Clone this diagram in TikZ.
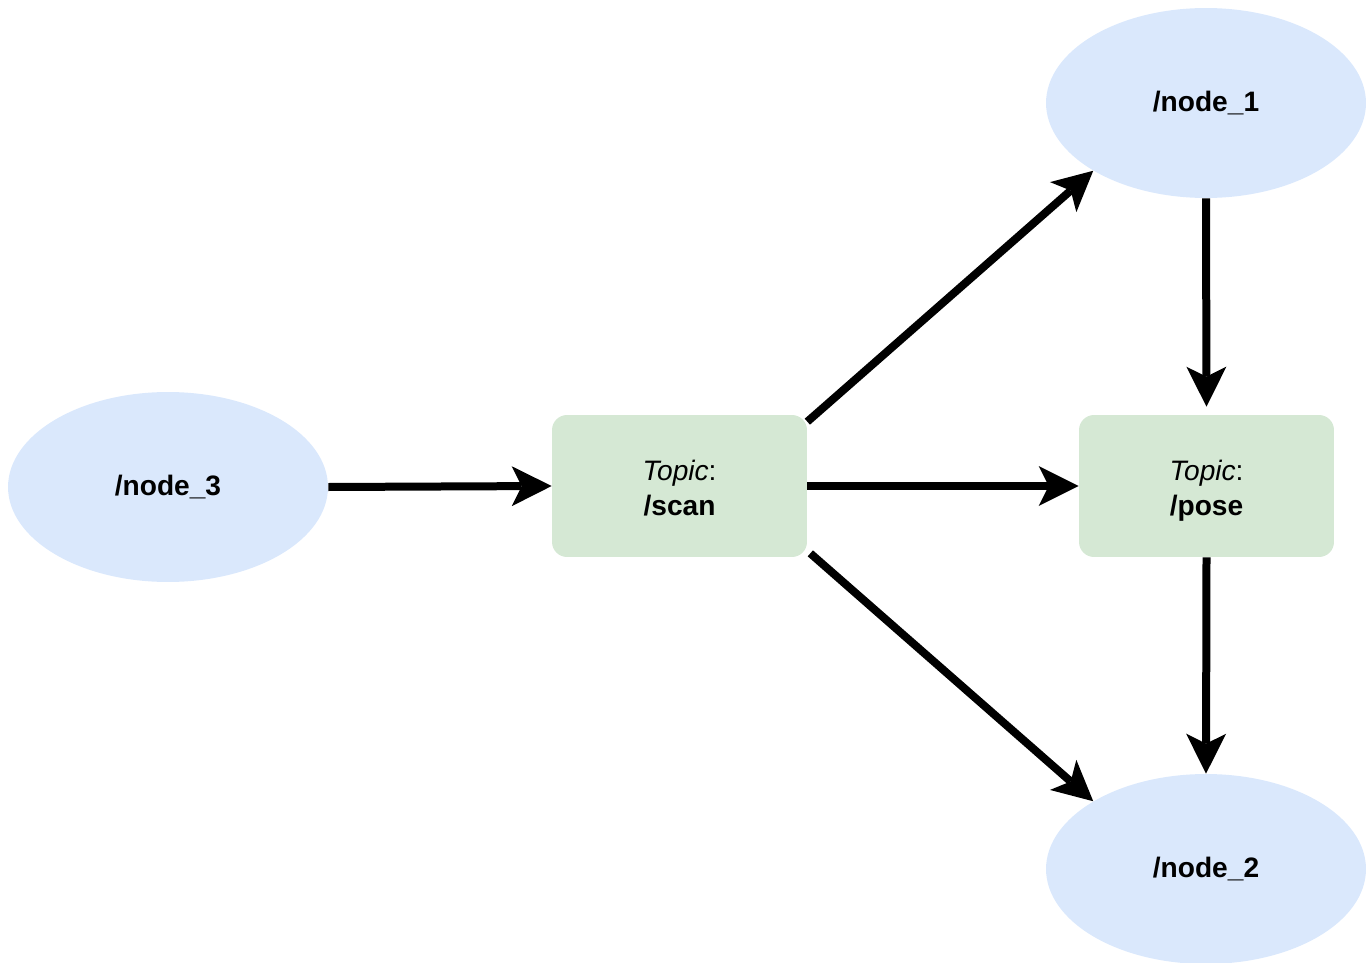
\documentclass[tikz,border=0pt]{standalone}
\usepackage{fontspec}
\setmainfont{Liberation Sans}
\usetikzlibrary{arrows.meta,shapes.geometric}
\definecolor{nodeblue}{HTML}{DAE8FC}
\definecolor{topicgreen}{HTML}{D5E8D4}
\newcommand{\topictext}[1]{\rule{0pt}{0.6cm}\textit{Topic}:\\\textbf{#1}\rule[-0.12cm]{0pt}{0pt}}

\begin{document}
\begin{tikzpicture}[x=0.02cm,y=-0.02cm,
  rosnode/.style={ellipse,fill=nodeblue,minimum width=6.4cm,minimum height=3.8cm,inner sep=0pt,font=\fontsize{16}{19}\selectfont\bfseries},
  topic/.style={rectangle,rounded corners=0.3cm,fill=topicgreen,minimum width=5.1cm,minimum height=2.84cm,align=center,font=\fontsize{16}{20}\selectfont},
  flow/.style={line width=0.16cm,-{Stealth[length=0.8cm,width=0.8cm,inset=0.2cm,line width=0pt]}}]
  \useasboundingbox (0,0) rectangle (1369,963);
  % nodes
  \node[rosnode] (n3) at (168,487) {/node\_3};
  \node[rosnode] (n1) at (1206,103) {/node\_1};
  \node[rosnode] (n2) at (1206,869) {/node\_2};
  \node[topic] (scan) at (679.5,486) {\topictext{/scan}};
  \node[topic] (pose) at (1206.5,486) {\topictext{/pose}};
  % connectors
  \draw[flow] (n3.east) -- (scan.west);
  \draw[flow] (scan.east) -- (pose.west);
  \draw[flow] ([yshift=-0.14cm]scan.north east) -- (n1.211);
  \draw[flow] ([shift={(0.06cm,0.08cm)}]scan.south east) -- (n2.149);
  \draw[flow,shorten >=0.16cm] (n1.south) -- (pose.north);
  \draw[flow] (pose.south) -- (n2.north);
\end{tikzpicture}
\end{document}
